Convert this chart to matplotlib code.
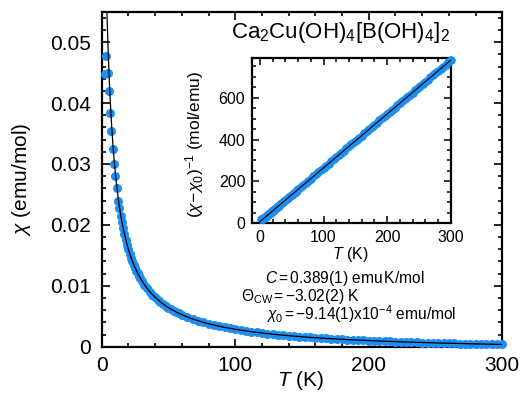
import numpy as np
import matplotlib
matplotlib.use("Agg")
import matplotlib.pyplot as plt
from matplotlib.ticker import MultipleLocator

plt.rcParams['font.family'] = ['Liberation Sans', 'DejaVu Sans']
plt.rcParams['mathtext.fontset'] = 'custom'
plt.rcParams['mathtext.rm'] = 'Liberation Sans'
plt.rcParams['mathtext.it'] = 'Liberation Sans:italic'
plt.rcParams['mathtext.bf'] = 'Liberation Sans:bold'

# ---- data ----
T_low = [3.2, 2.1, 4.9, 5.2, 6.0, 6.7, 8.2, 9.4, 10.0, 11.5, 12.4, 13.0, 14.2, 15.2]
chi_low = [0.0478, 0.0447, 0.0449, 0.0419, 0.0383, 0.0354, 0.0325, 0.0300,
           0.0280, 0.0260, 0.0240, 0.0227, 0.0215, 0.0204]

T_dense = [16, 17, 18, 19, 20, 21, 22, 23, 24, 25, 26, 27, 28, 29, 30,
           32, 34, 36, 38, 40, 42, 44, 46, 48, 50, 52, 54, 56, 58, 60,
           64, 68, 72, 76, 80, 84, 88, 92, 96, 100, 104, 108, 112, 116, 120,
           124, 128, 132, 136, 140, 144, 148, 152, 156, 160, 164, 168, 172, 176, 180,
           184, 188, 192, 196, 200, 204, 208, 212, 216, 220, 224, 228, 232, 236, 240,
           244, 248, 252, 256, 260, 264, 268, 272, 276, 280, 284, 288, 292, 296, 300]
chi_dense = [0.019538, 0.018517, 0.017592, 0.016752, 0.015984, 0.015281, 0.014634, 0.014036,
             0.013483, 0.012969, 0.012491, 0.012044, 0.011626, 0.011235, 0.010867,
             0.010194, 0.009594, 0.009055, 0.008569, 0.008128, 0.007727, 0.007359, 0.007022,
             0.006710, 0.006423, 0.006156, 0.005908, 0.005677, 0.005461, 0.005259,
             0.004890, 0.004563, 0.004271, 0.004009, 0.003772, 0.003556, 0.003360, 0.003180,
             0.003014, 0.002862, 0.002721, 0.002590, 0.002468, 0.002354, 0.002248,
             0.002148, 0.002055, 0.001967, 0.001884, 0.001806, 0.001732, 0.001662, 0.001595,
             0.001532, 0.001472, 0.001415, 0.001361, 0.001309, 0.001259, 0.001211,
             0.001166, 0.001122, 0.001081, 0.001041, 0.001002, 0.000965, 0.000929, 0.000895,
             0.000862, 0.000830, 0.000800, 0.000770, 0.000741, 0.000713, 0.000687,
             0.000661, 0.000636, 0.000611, 0.000588, 0.000565, 0.000543, 0.000521, 0.000500,
             0.000480, 0.000460, 0.000441, 0.000423, 0.000405, 0.000387, 0.000370]

# Curie-Weiss fit parameters (as printed on the chart)
C_FIT = 0.389
THETA_CW = -3.02
CHI0 = -9.14e-4

T = np.array(T_low + T_dense, dtype=float)
chi = np.array(chi_low + chi_dense, dtype=float)
inv_chi = 1.0 / (chi - CHI0)

T_fit = np.linspace(3.4, 300, 800)
chi_fit = C_FIT / (T_fit - THETA_CW) + CHI0
T_fit_in = np.linspace(THETA_CW, 300, 200)
inv_fit = (T_fit_in - THETA_CW) / C_FIT

BLUE = '#1f8ef1'
W, H = 529, 394
fig = plt.figure(figsize=(W / 100, H / 100), dpi=100)

def rect(l, t, r, b):
    return [l / W, 1 - b / H, (r - l) / W, (b - t) / H]

ax = fig.add_axes(rect(101.7, 11.7, 502.3, 346.7))
ax.plot(T, chi, 'o', color=BLUE, ms=6.5, mec='none', clip_on=False, zorder=3)
ax.plot(T_fit, chi_fit, '-', color='black', lw=0.9, zorder=4)
ax.set_xlim(0, 300)
ax.set_ylim(0, 0.055)
ax.xaxis.set_major_locator(MultipleLocator(100))
ax.xaxis.set_minor_locator(MultipleLocator(20))
ax.yaxis.set_major_locator(MultipleLocator(0.01))
ax.yaxis.set_minor_locator(MultipleLocator(0.002))
ax.yaxis.set_major_formatter(matplotlib.ticker.FuncFormatter(lambda v, p: '0' if abs(v) < 1e-12 else f'{v:.2f}'))
ax.tick_params(which='both', direction='in', top=True, right=True, width=1.2, labelsize=15)
ax.tick_params(which='major', length=6)
ax.tick_params(which='minor', length=3.2)
ax.tick_params(axis='x', pad=7)
ax.tick_params(axis='y', pad=8)
for s in ax.spines.values():
    s.set_linewidth(1.6)
ax.set_xlabel(r'$T$ (K)', fontsize=15)
ax.set_ylabel(r'$\chi$ (emu/mol)', fontsize=15)
ax.xaxis.set_label_coords(0.497, -0.068)
ax.yaxis.set_label_coords(-0.172, 0.5)

fig.text(340.8 / W, 1 - 38.3 / H, r'Ca$_2$Cu(OH)$_4$[B(OH)$_4$]$_2$', fontsize=16,
         ha='center', va='baseline')

fs = 11.2
def figtext(x, y, s):
    fig.text(x / W, 1 - y / H, s, fontsize=fs, ha='center', va='baseline')

figtext(344.3, 283.3, r'$C$$\,$=$\,$0.389(1) emu$\,$K/mol')
figtext(300.0, 300.5, r'$\Theta_{\mathrm{CW}}$$\,$=$\,$' + '\u22123.02(2) K')
figtext(361.0, 319.8, r'$\chi_0$$\,$=$\,$' + '\u22129.14(1)x10$^{-4}$ emu/mol')

# inset
axi = fig.add_axes(rect(252.3, 58.3, 450.7, 223.3))
axi.plot(T, inv_chi, 'o', color=BLUE, ms=6.2, mec='none', clip_on=False, zorder=3)
axi.plot(T_fit_in, inv_fit, '-', color='black', lw=0.8, zorder=4)
axi.set_xlim(-12, 300)
axi.set_ylim(0, 788)
axi.xaxis.set_major_locator(MultipleLocator(100))
axi.xaxis.set_minor_locator(MultipleLocator(20))
axi.yaxis.set_major_locator(MultipleLocator(200))
axi.yaxis.set_minor_locator(MultipleLocator(50))
axi.tick_params(which='both', direction='in', top=True, right=True, width=1.1, labelsize=11.5)
axi.tick_params(which='major', length=5)
axi.tick_params(which='minor', length=3)
axi.tick_params(axis='x', pad=5)
axi.tick_params(axis='y', pad=5)
for s in axi.spines.values():
    s.set_linewidth(1.6)
axi.set_xlabel(r'$T$ (K)', fontsize=11.5)
axi.set_ylabel(r'$(\chi\!-\!\chi_0)^{-1}$ (mol/emu)', fontsize=12.5)
axi.xaxis.set_label_coords(0.495, -0.13)
axi.yaxis.set_label_coords(-0.235, 0.48)

fig.savefig('out.png', dpi=100)
